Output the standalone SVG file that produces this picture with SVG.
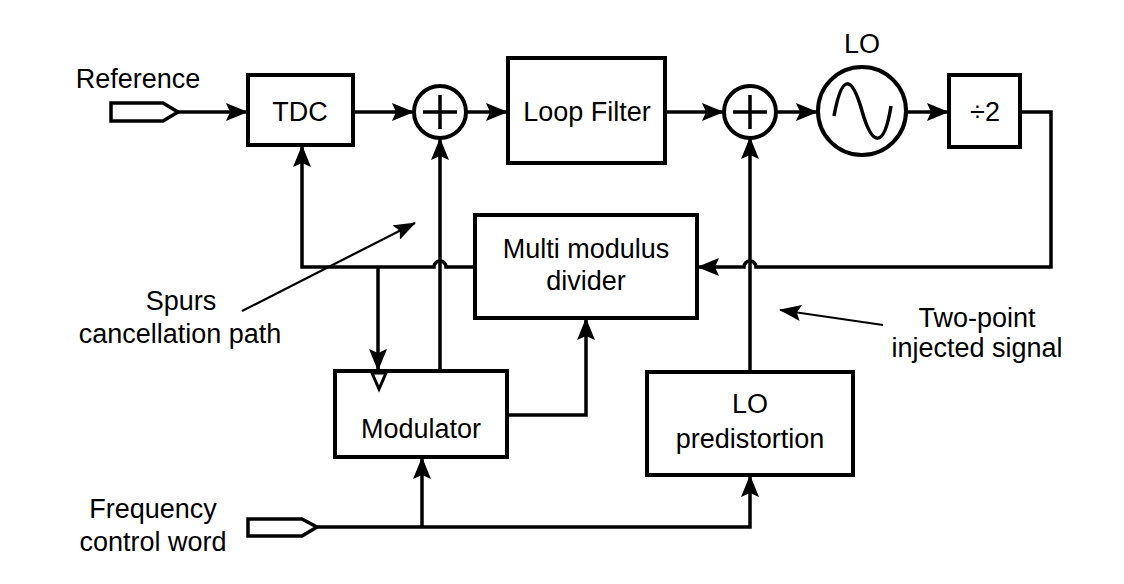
<svg xmlns="http://www.w3.org/2000/svg" width="1124" height="584" viewBox="0 0 1124 584">
<defs>
<style>
.box{fill:#fff;stroke:#000;stroke-width:4}
.ln{fill:none;stroke:#000;stroke-width:3.5}
.thin{fill:none;stroke:#000;stroke-width:2.2}
.t{font-family:"Liberation Sans",Arial,sans-serif;font-size:27px;fill:#000;text-anchor:middle}
</style>
<marker id="ar" markerUnits="userSpaceOnUse" markerWidth="22" markerHeight="18" viewBox="0 0 22 18" refX="21" refY="9" orient="auto">
<path d="M0,0 L22,9 L0,18 L4,9 Z" fill="#000"/>
</marker>
<marker id="ar2" markerUnits="userSpaceOnUse" markerWidth="22" markerHeight="16" viewBox="0 0 22 16" refX="21" refY="8" orient="auto">
<path d="M0,0 L22,8 L0,16 L4,8 Z" fill="#000"/>
</marker>
</defs>
<rect width="1124" height="584" fill="#fff"/>

<g id="connectors">
<path class="ln" d="M178,112 H247" marker-end="url(#ar)"/>
<path class="ln" d="M353,112 H413" marker-end="url(#ar)"/>
<path class="ln" d="M466,112 H507" marker-end="url(#ar)"/>
<path class="ln" d="M665,112 H723" marker-end="url(#ar)"/>
<path class="ln" d="M776,112 H817" marker-end="url(#ar)"/>
<path class="ln" d="M906,112 H948" marker-end="url(#ar)"/>
<path class="ln" d="M1020,112 H1051 V267 H756 A6,6 0 0 0 744,267 H698" marker-end="url(#ar)"/>
<path class="ln" d="M475,267 H446 A6,6 0 0 0 434,267 H302 V146" marker-end="url(#ar)"/>
<path class="ln" d="M378,267 V370" marker-end="url(#ar)"/>
<path class="ln" d="M440,371 V139" marker-end="url(#ar)"/>
<path class="ln" d="M507,415 H586 V319" marker-end="url(#ar)"/>
<path class="ln" d="M750,372 V138" marker-end="url(#ar)"/>
<path class="ln" d="M317,527 H750 V476" marker-end="url(#ar)"/>
<path class="ln" d="M422,527 V458" marker-end="url(#ar)"/>
<path class="thin" d="M242,311 L415,223" marker-end="url(#ar2)"/>
<path class="thin" d="M883,325 L780,310" marker-end="url(#ar2)"/>
</g>

<g id="reference-input">
<polygon class="box" points="111,103 163,103 178,112 163,121 111,121" style="stroke-width:3.5"/>
<text class="t" x="138" y="88">Reference</text>
</g>

<g id="fcw-input">
<polygon class="box" points="248,519 302,519 317,527 302,536 248,536" style="stroke-width:3.5"/>
<text class="t" x="153" y="518">Frequency</text>
<text class="t" x="153" y="551">control word</text>
</g>

<g id="tdc">
<rect class="box" x="248" y="75" width="105" height="70"/>
<text class="t" x="300" y="121">TDC</text>
</g>

<g id="sum1">
<circle class="box" cx="440" cy="112" r="26"/>
<path class="ln" d="M423,112 H457 M440,95 V129"/>
</g>

<g id="loop-filter">
<rect class="box" x="508" y="58" width="157" height="105"/>
<text class="t" x="587" y="121">Loop Filter</text>
</g>

<g id="sum2">
<circle class="box" cx="750" cy="112" r="26"/>
<path class="ln" d="M733,112 H767 M750,95 V129"/>
</g>

<g id="lo">
<circle class="box" cx="862" cy="111" r="44"/>
<path class="ln" d="M834,116 C842,72 852,76 862,111 C872,146 884,150 891,106"/>
<text class="t" x="862" y="53">LO</text>
</g>

<g id="div2">
<rect class="box" x="949" y="75" width="71" height="72"/>
<text class="t" x="985" y="121">÷2</text>
</g>

<g id="mmd">
<rect class="box" x="475" y="215" width="222" height="103"/>
<text class="t" x="586" y="258">Multi modulus</text>
<text class="t" x="586" y="290">divider</text>
</g>

<g id="modulator">
<rect class="box" x="335" y="371" width="172" height="86"/>
<polygon points="372,373 386,373 379,389" fill="#fff" stroke="#000" stroke-width="3"/>
<text class="t" x="421" y="438">Modulator</text>
</g>

<g id="lo-predistortion">
<rect class="box" x="647" y="372" width="206" height="103"/>
<text class="t" x="750" y="413">LO</text>
<text class="t" x="750" y="448">predistortion</text>
</g>

<g id="annotations">
<text class="t" x="181" y="310">Spurs</text>
<text class="t" x="180" y="343">cancellation path</text>
<text class="t" x="977" y="327">Two-point</text>
<text class="t" x="977" y="357">injected signal</text>
</g>
</svg>
